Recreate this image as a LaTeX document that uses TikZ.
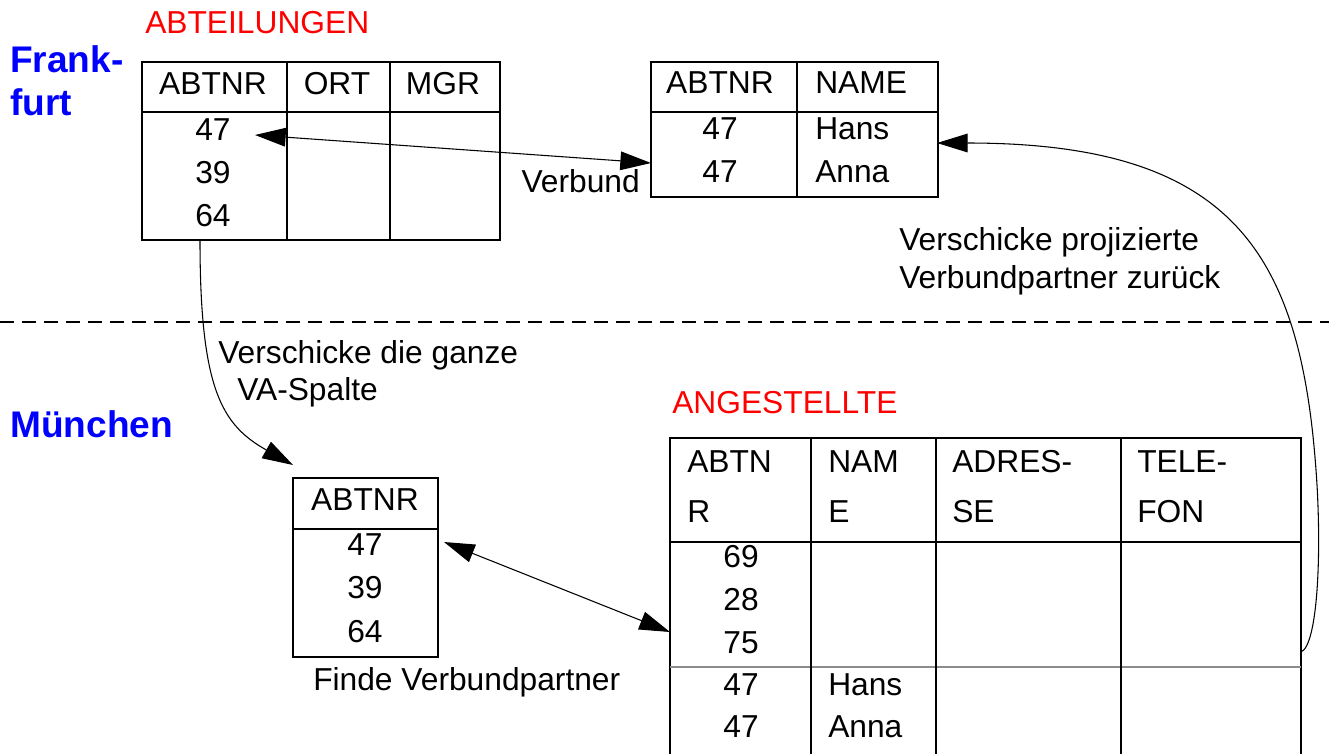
\documentclass[tikz,border=0pt]{standalone}
\usepackage{fontspec}
\setmainfont{Liberation Sans}
\usetikzlibrary{arrows.meta}
\definecolor{titlered}{RGB}{255,0,0}
\definecolor{cityblue}{RGB}{0,0,255}
\definecolor{sepgray}{RGB}{140,140,140}
\begin{document}
\begin{tikzpicture}[x=0.75pt,y=-0.75pt,
  txt/.style={inner sep=0pt, font=\fontsize{23.8}{28}\selectfont},
  ctxt/.style={txt, anchor=base},
  ltxt/.style={txt, anchor=base west},
  title/.style={ltxt, text=titlered},
  city/.style={inner sep=0pt, anchor=base west, text=cityblue, font=\fontsize{27.8}{32}\selectfont\bfseries},
  tline/.style={line width=1.1pt},
  arr/.style={line width=0.8pt, -{Triangle[length=23pt,width=14pt]}},
  darr/.style={line width=0.8pt, {Triangle[length=23pt,width=14pt]}-{Triangle[length=23pt,width=14pt]}},
  sep/.style={line width=1.6pt, dash pattern=on 10.5pt off 6pt}]
\useasboundingbox (0,0) rectangle (1329,754);

% ---- city labels
\node[city] (fr1) at (10,72) {Frank-};
\node[city] (fr2) at (10,115) {furt};
\node[city] (mu) at (10,437) {München};

% ---- separator
\coordinate (sepL) at (0,322);
\coordinate (sepR) at (1329,322);
\draw[sep] (sepL) -- (sepR);

% ---- ABTEILUNGEN table
\node[title] (tAbt) at (145,33) {ABTEILUNGEN};
\draw[tline] (142,62) rectangle (500,240);
\draw[tline] (142,112) -- (500,112);
\draw[tline] (287,62) -- (287,240);
\draw[tline] (390,62) -- (390,240);
\node[ctxt] (a1h) at (213,94) {ABTNR};
\node[ctxt] (a2h) at (337,94) {ORT};
\node[ctxt] (a3h) at (443,94) {MGR};
\node[ctxt] (a47) at (213,140) {47};
\node[ctxt] (a39) at (213,183) {39};
\node[ctxt] (a64) at (213,226) {64};

% ---- Frankfurt result table
\draw[tline] (651,62) rectangle (938,197);
\draw[tline] (651,112) -- (938,112);
\draw[tline] (797,62) -- (797,197);
\node[ctxt] (r1h) at (720,93) {ABTNR};
\node[ltxt] (r2h) at (815,93) {NAME};
\node[ctxt] (r47a) at (720,139) {47};
\node[ctxt] (r47b) at (720,182) {47};
\node[ltxt] (rHans) at (815,139) {Hans};
\node[ltxt] (rAnna) at (815,182) {Anna};

% ---- Munich column table
\draw[tline] (293,478) rectangle (438,657);
\draw[tline] (293,529) -- (438,529);
\node[ctxt] (m1h) at (365,510) {ABTNR};
\node[ctxt] (m47) at (365,555) {47};
\node[ctxt] (m39) at (365,598) {39};
\node[ctxt] (m64) at (365,642) {64};
\node[ltxt] (finde) at (313,690) {Finde Verbundpartner};

% ---- ANGESTELLTE table
\node[title] (tAng) at (672,413) {ANGESTELLTE};
\draw[tline] (670,754) -- (670,438) -- (1301,438) -- (1301,754);
\draw[tline] (670,542) -- (1301,542);
\draw[line width=1.1pt, sepgray] (670,667) -- (1301,667);
\draw[tline] (811,438) -- (811,754);
\draw[tline] (936,438) -- (936,754);
\draw[tline] (1121,438) -- (1121,754);
\node[ltxt] (g1a) at (687,472) {ABTN};
\node[ltxt] (g1b) at (687,522) {R};
\node[ltxt] (g2a) at (828,472) {NAM};
\node[ltxt] (g2b) at (828,522) {E};
\node[ltxt] (g3a) at (952,472) {ADRES-};
\node[ltxt] (g3b) at (952,522) {SE};
\node[ltxt] (g4a) at (1137,472) {TELE-};
\node[ltxt] (g4b) at (1137,522) {FON};
\node[ctxt] (g69) at (741,567) {69};
\node[ctxt] (g28) at (741,610) {28};
\node[ctxt] (g75) at (741,653) {75};
\node[ctxt] (g47a) at (741,695) {47};
\node[ctxt] (g47b) at (741,737) {47};
\node[ltxt] (gHans) at (828,695) {Hans};
\node[ltxt] (gAnna) at (828,737) {Anna};

% ---- labels of connectors
\node[txt, anchor=base east] (verbund) at (640,192) {Verbund};
\node[ltxt] (vs1) at (218,363) {Verschicke die ganze};
\node[ltxt] (vs2) at (237,400) {VA-Spalte};
\node[ltxt] (vp1) at (899,250) {Verschicke projizierte};
\node[ltxt] (vp2) at (899,288) {Verbundpartner zurück};

% ---- connector end points
\coordinate (c47) at (255,135);
\coordinate (cRes) at (651,163);
\coordinate (c64) at (200,240);
\coordinate (cMunTop) at (293,465);
\coordinate (cMun47) at (444,542);
\coordinate (cAngL) at (670,632);
\coordinate (cAngR) at (1301,652);
\coordinate (cHans) at (937,143);
\coordinate (cMid) at (1316,470);

% ---- connectors
\draw[darr] (c47) -- (cRes);
\draw[arr] (c64) .. controls (200,390) and (222,425) .. (cMunTop);
\draw[darr] (cMun47) -- (cAngL);
\draw[arr] (cAngR) .. controls (1318,645) and (1322,550) .. (cMid)
  .. controls (1300,250) and (1230,143) .. (cHans);
\end{tikzpicture}
\end{document}
